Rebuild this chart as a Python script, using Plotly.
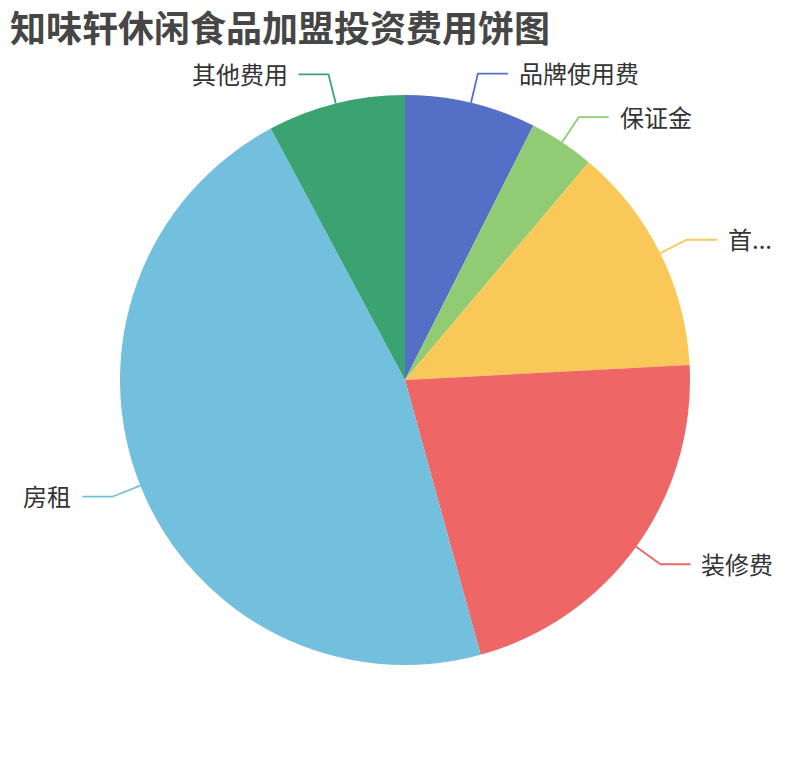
import math
import plotly.graph_objects as go

# 知味轩休闲食品加盟投资费用（万元，估读）
categories = ['品牌使用费', '保证金', '首批进货费', '装修费', '房租', '其他费用']
display_labels = ['品牌使用费', '保证金', '首...', '装修费', '房租', '其他费用']
values = [2.0, 1.0, 3.5, 5.8, 12.5, 2.1]
colors = ['#5470c6', '#91cc75', '#fac858', '#ee6666', '#73c0de', '#3ba272']

# page has an 8px body margin, so the figure is drawn 8px in from the corner
OFF = 8
W, H = 810 - OFF, 760 - OFF
cx, cy, R = 405 - OFF, 380 - OFF, 285

fig = go.Figure(go.Pie(
    labels=categories,
    values=values,
    sort=False,
    direction='clockwise',
    rotation=0,
    marker=dict(colors=colors, line=dict(color='#ffffff', width=0)),
    textinfo='none',
    hovertemplate='%{label}: %{value} (%{percent})<extra></extra>',
    domain=dict(x=[(cx - R) / W, (cx + R) / W], y=[(H - cy - R) / H, (H - cy + R) / H]),
    showlegend=False,
))

# leader lines + labels, placed from each slice's mid angle
total = sum(values)
acc = 0
shapes = []
annotations = []
for name, v, col in zip(display_labels, values, colors):
    mid = (acc + v / 2) / total * 2 * math.pi
    acc += v
    s, c = math.sin(mid), math.cos(mid)
    x0, y0 = cx + R * s, cy - R * c
    x1, y1 = cx + (R + 30) * s, cy - (R + 30) * c
    side = 1 if s >= 0 else -1
    x2 = x1 + side * 30
    path = 'M {:.4f} {:.4f} L {:.4f} {:.4f} L {:.4f} {:.4f}'.format(
        x0 / W, 1 - y0 / H, x1 / W, 1 - y1 / H, x2 / W, 1 - y1 / H)
    shapes.append(dict(type='path', path=path, xref='paper', yref='paper',
                       line=dict(color=col, width=1.8)))
    annotations.append(dict(
        x=(x2 + side * 9) / W, y=1 - (y1 - 1) / H, xref='paper', yref='paper',
        text=name, showarrow=False,
        xanchor='left' if side > 0 else 'right', yanchor='middle',
        font=dict(size=24, color='#333333', family='Noto Sans CJK SC'),
    ))

fig.update_layout(
    width=W, height=H,
    margin=dict(l=0, r=0, t=0, b=0),
    paper_bgcolor='#ffffff',
    title=dict(
        text='<b>知味轩休闲食品加盟投资费用饼图</b>',
        x=(10 - OFF) / W, xanchor='left', y=1 - (29 - OFF) / H, yanchor='middle',
        font=dict(size=36, color='#464646', family='Noto Sans CJK SC'),
    ),
    shapes=shapes,
    annotations=annotations,
)

fig.write_html('out.html')
